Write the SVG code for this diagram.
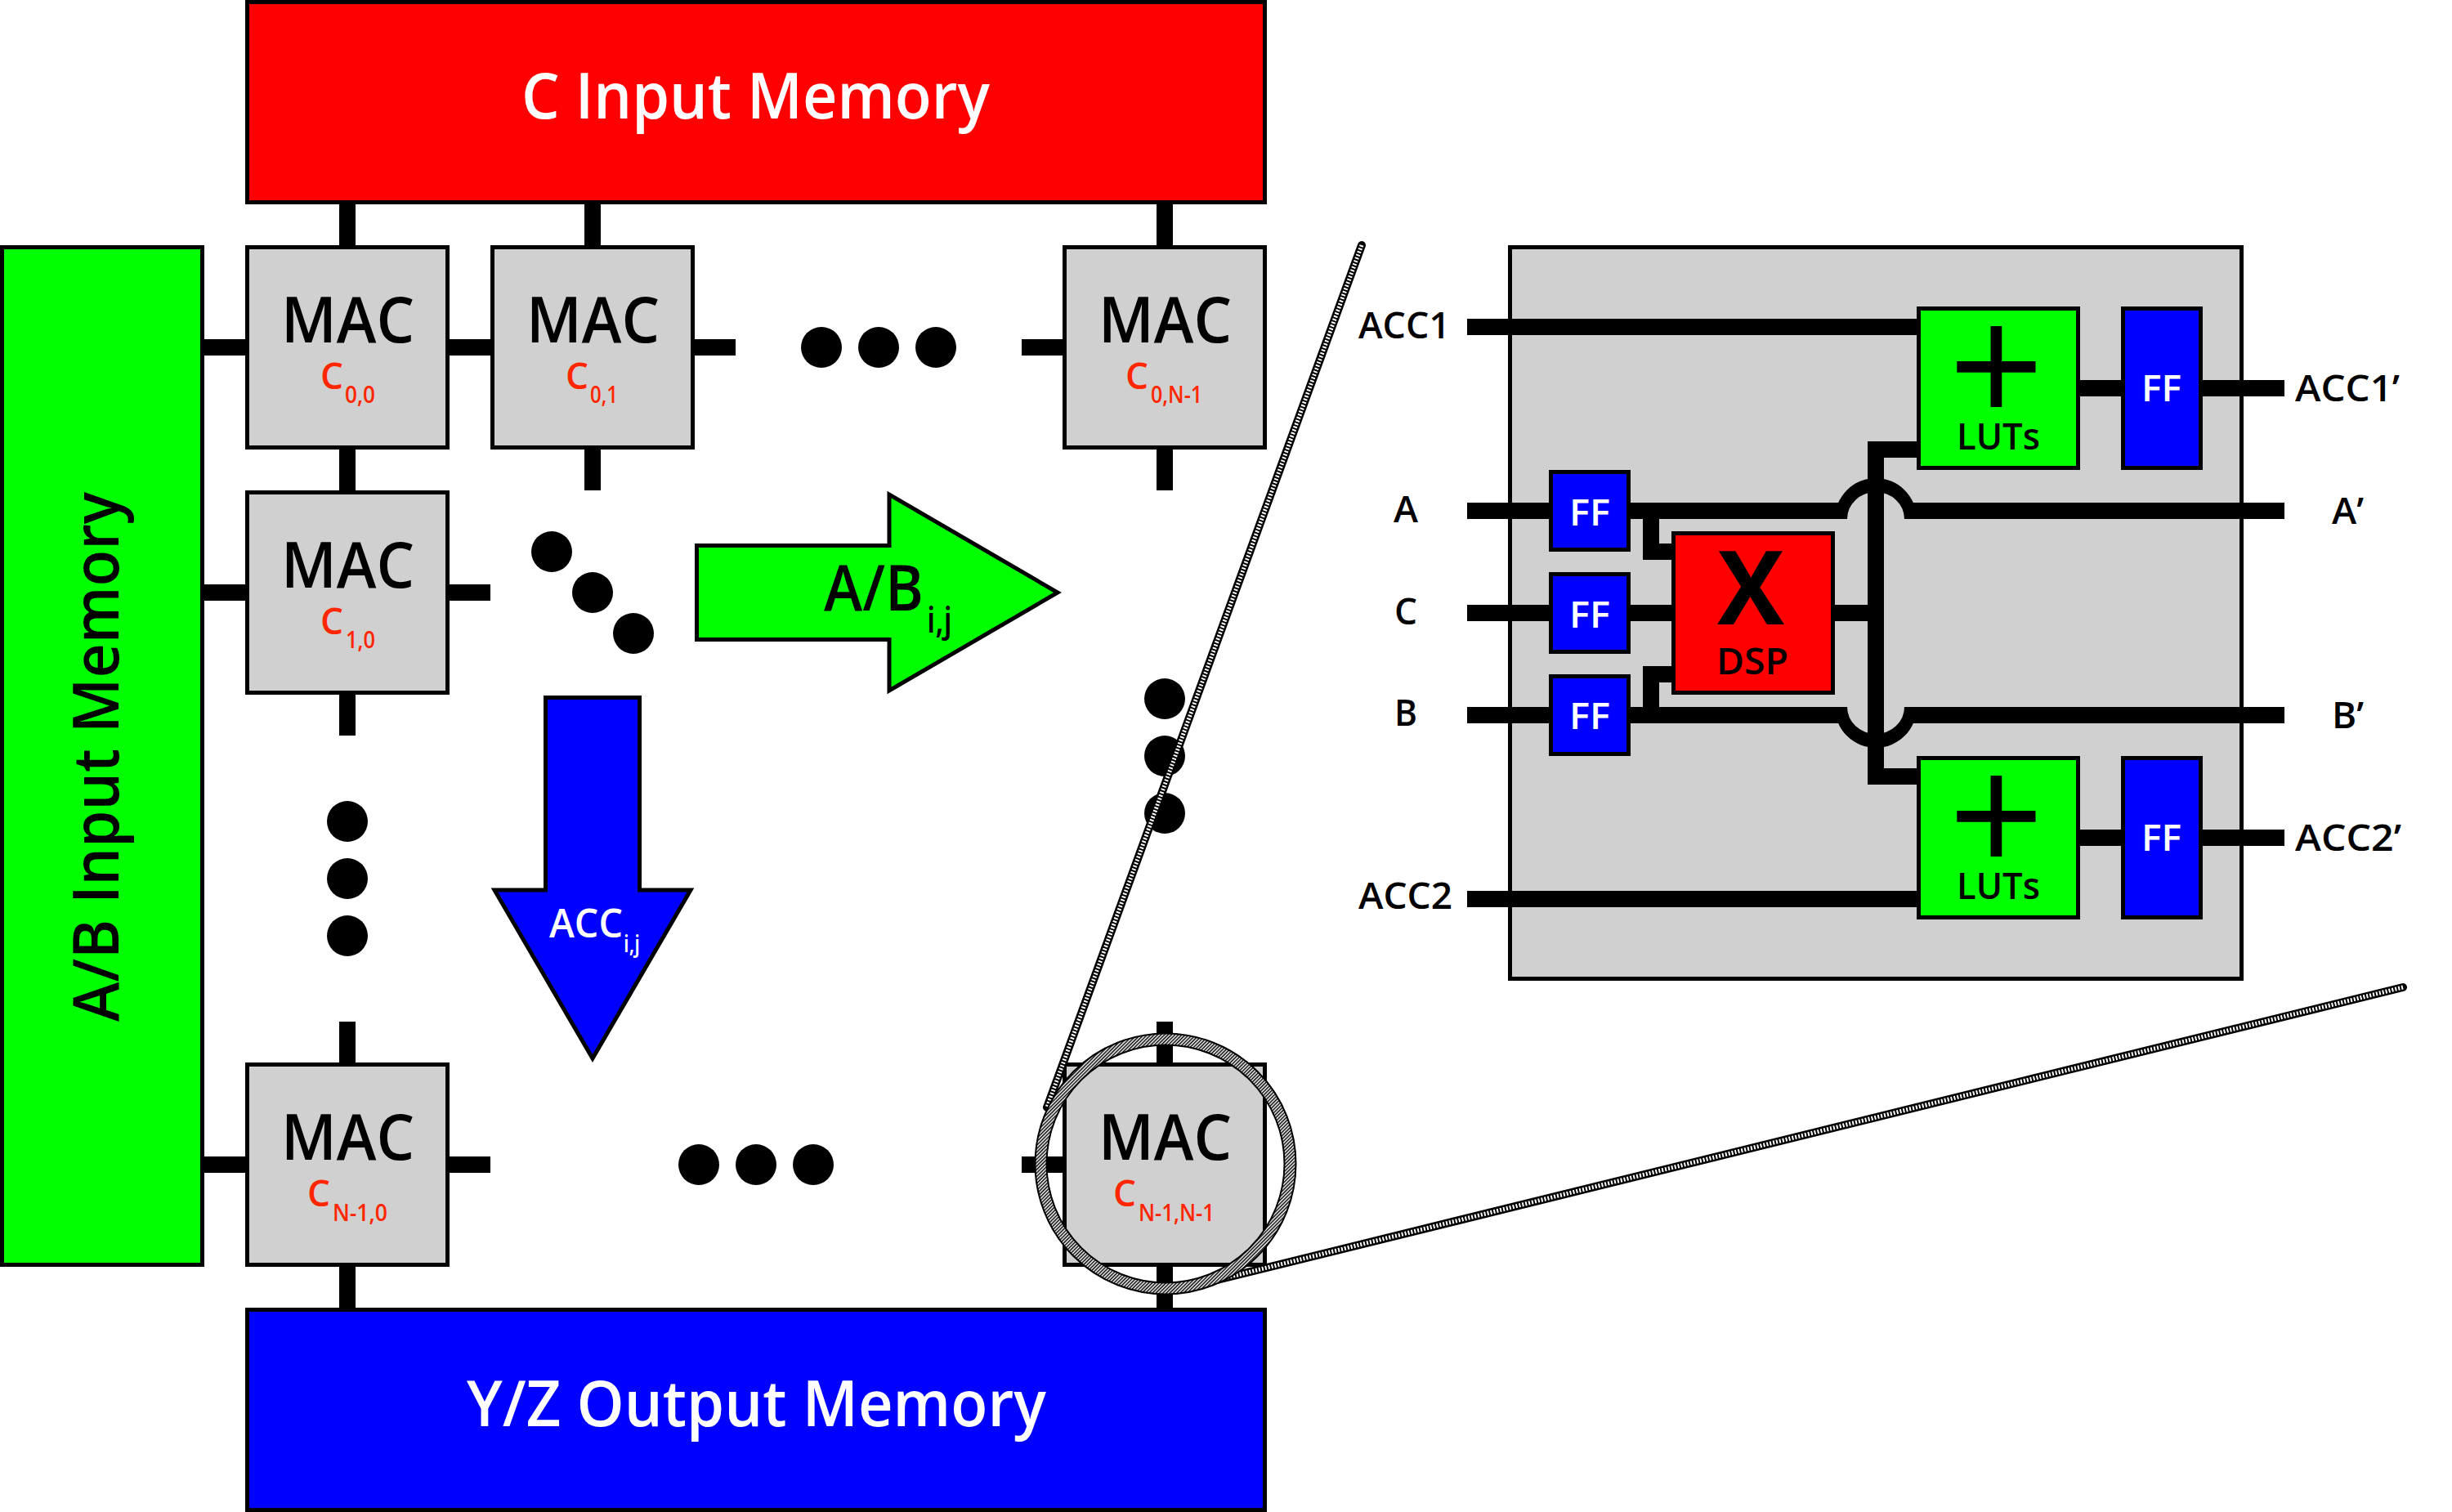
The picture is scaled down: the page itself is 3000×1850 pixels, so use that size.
<svg xmlns="http://www.w3.org/2000/svg" width="3000" height="1850" viewBox="0 0 3000 1850">
<style>
text{font-family:"Open Sans","Noto Sans","Liberation Sans",sans-serif;fill:#000;font-weight:600}
.box{stroke:#000;stroke-width:5}
.g{fill:#d0d0d0}.gr{fill:#00ff00}.bl{fill:#0000ff}.rd{fill:#ff0000}
.r{fill:#ff2600;font-weight:600}
.wire{stroke:#000;stroke-width:20;fill:none}
.mac{font-size:77px}
.c{font-size:46px}.s{font-size:28px}
.big{font-size:77px}
.lb{font-size:46px;font-weight:600}
.ff{font-size:46px;fill:#fff;font-weight:600}
.plus{font-size:205px;font-weight:400}
</style>
<defs>
<pattern id="hatch" width="3" height="3" patternUnits="userSpaceOnUse" patternTransform="rotate(45)"><rect width="3" height="3" fill="#fff"/><rect width="1.5" height="3" fill="#000"/></pattern>
</defs>
<g id="connectors">
<path class="wire" d="M425 250V300M725 250V300M1425 250V300M425 550V600M725 550V600M1425 550V600M425 850V900M425 1250V1300M1425 1250V1300M425 1550V1600M1425 1550V1600M250 425H300M550 425H600M850 425H900M1250 425H1300M250 725H300M550 725H600M250 1425H300M550 1425H600M1250 1425H1300"/>
</g>
<g id="c-input-memory"><rect class="box rd" x="302.5" y="2.5" width="1245" height="245"/><text class="big" style="fill:#fff" x="638" y="145" textLength="573" lengthAdjust="spacingAndGlyphs">C Input Memory</text></g>
<g id="ab-input-memory"><rect class="box gr" x="2.5" y="302.5" width="245" height="1245"/><text class="big" transform="translate(145 1250) rotate(-90)" textLength="648" lengthAdjust="spacingAndGlyphs">A/B Input Memory</text></g>
<g id="yz-output-memory"><rect class="box bl" x="302.5" y="1602.5" width="1245" height="245"/><text class="big" style="fill:#fff" x="571" y="1745" textLength="709" lengthAdjust="spacingAndGlyphs">Y/Z Output Memory</text></g>
<g id="mac-0-0"><rect class="box g" x="302.5" y="302.5" width="245" height="245"/><text class="mac" x="344" y="419" textLength="163" lengthAdjust="spacingAndGlyphs">MAC</text><text class="c r" x="392" y="476" textLength="28" lengthAdjust="spacingAndGlyphs">C</text><text class="s r" x="422" y="493" textLength="37" lengthAdjust="spacingAndGlyphs">0,0</text></g>
<g id="mac-0-1"><rect class="box g" x="602.5" y="302.5" width="245" height="245"/><text class="mac" x="644" y="419" textLength="163" lengthAdjust="spacingAndGlyphs">MAC</text><text class="c r" x="692" y="476" textLength="28" lengthAdjust="spacingAndGlyphs">C</text><text class="s r" x="722" y="493" textLength="34" lengthAdjust="spacingAndGlyphs">0,1</text></g>
<g id="mac-0-n"><rect class="box g" x="1302.5" y="302.5" width="245" height="245"/><text class="mac" x="1344" y="419" textLength="163" lengthAdjust="spacingAndGlyphs">MAC</text><text class="c r" x="1377" y="476" textLength="28" lengthAdjust="spacingAndGlyphs">C</text><text class="s r" x="1408" y="493" textLength="63" lengthAdjust="spacingAndGlyphs">0,N-1</text></g>
<g id="mac-1-0"><rect class="box g" x="302.5" y="602.5" width="245" height="245"/><text class="mac" x="344" y="719" textLength="163" lengthAdjust="spacingAndGlyphs">MAC</text><text class="c r" x="392" y="776" textLength="28" lengthAdjust="spacingAndGlyphs">C</text><text class="s r" x="423" y="793" textLength="36" lengthAdjust="spacingAndGlyphs">1,0</text></g>
<g id="mac-n-0"><rect class="box g" x="302.5" y="1302.5" width="245" height="245"/><text class="mac" x="344" y="1419" textLength="163" lengthAdjust="spacingAndGlyphs">MAC</text><text class="c r" x="376" y="1476" textLength="28" lengthAdjust="spacingAndGlyphs">C</text><text class="s r" x="407" y="1494" textLength="67" lengthAdjust="spacingAndGlyphs">N-1,0</text></g>
<g id="mac-n-n"><rect class="box g" x="1302.5" y="1302.5" width="245" height="245"/><text class="mac" x="1344" y="1419" textLength="163" lengthAdjust="spacingAndGlyphs">MAC</text><text class="c r" x="1362" y="1476" textLength="28" lengthAdjust="spacingAndGlyphs">C</text><text class="s r" x="1393" y="1494" textLength="93" lengthAdjust="spacingAndGlyphs">N-1,N-1</text></g>
<g id="dots">
<circle cx="1005" cy="425" r="25"/><circle cx="1075" cy="425" r="25"/><circle cx="1145" cy="425" r="25"/>
<circle cx="425" cy="1005" r="25"/><circle cx="425" cy="1075" r="25"/><circle cx="425" cy="1145" r="25"/>
<circle cx="1425" cy="855" r="25"/><circle cx="1425" cy="925" r="25"/><circle cx="1425" cy="995" r="25"/>
<circle cx="855" cy="1425" r="25"/><circle cx="925" cy="1425" r="25"/><circle cx="995" cy="1425" r="25"/>
<circle cx="675" cy="675" r="25"/><circle cx="725" cy="725" r="25"/><circle cx="775" cy="775" r="25"/>
</g>
<g id="arrow-ab"><path class="box gr" d="M852.5 667.5H1088V605L1294 725L1088 845V782.5H852.5Z"/><text class="mac" x="1008" y="747" textLength="122" lengthAdjust="spacingAndGlyphs">A/B</text><text x="1134" y="774" style="font-size:44px" textLength="31" lengthAdjust="spacingAndGlyphs">i,j</text></g>
<g id="arrow-acc"><path class="box bl" d="M667.5 853.5V1089H605L725 1295L845 1089H782.5V853.5Z"/><text x="672" y="1147" style="font-size:48px;fill:#fff" textLength="90" lengthAdjust="spacingAndGlyphs">ACC</text><text x="763" y="1165" style="font-size:28px;fill:#fff" textLength="20" lengthAdjust="spacingAndGlyphs">i,j</text></g>
<g id="inset-panel"><rect class="box g" x="1847.5" y="302.5" width="895" height="895"/></g>
<g id="inset-connectors">
<path class="wire" d="M1795 400H2345M2545 475H2595M2695 475H2795M1795 625H1895M1995 625H2260M2330 625H2795M1795 750H1895M1995 750H2045M2245 750H2295M1795 875H1895M1995 875H2260M2330 875H2795M1795 1100H2345M2545 1025H2595M2695 1025H2795M2020 625V675H2045M2020 875V825H2045M2345 550H2295V950H2345"/>
<path d="M2245 635A50 50 0 0 1 2345 635H2330A35 33 0 0 0 2260 635ZM2245 865A50 50 0 0 0 2345 865H2330A35 33 0 0 1 2260 865Z"/>
</g>
<g id="ff-a"><rect class="box bl" x="1897.5" y="577.5" width="95" height="95"/><text class="ff" x="1920" y="643" textLength="50" lengthAdjust="spacingAndGlyphs">FF</text></g>
<g id="ff-c"><rect class="box bl" x="1897.5" y="702.5" width="95" height="95"/><text class="ff" x="1920" y="768" textLength="50" lengthAdjust="spacingAndGlyphs">FF</text></g>
<g id="ff-b"><rect class="box bl" x="1897.5" y="827.5" width="95" height="95"/><text class="ff" x="1920" y="892" textLength="50" lengthAdjust="spacingAndGlyphs">FF</text></g>
<g id="dsp"><rect class="box rd" x="2047.5" y="652.5" width="195" height="195"/><text x="2101" y="764" style="font-size:125px;font-weight:700" textLength="82" lengthAdjust="spacingAndGlyphs">X</text><text class="lb" x="2100" y="825" textLength="88" lengthAdjust="spacingAndGlyphs">DSP</text></g>
<g id="lut-1"><rect class="box gr" x="2347.5" y="377.5" width="195" height="195"/><text class="plus" x="2384" y="521">+</text><text class="lb" x="2394" y="550" textLength="102" lengthAdjust="spacingAndGlyphs">LUTs</text></g>
<g id="lut-2"><rect class="box gr" x="2347.5" y="927.5" width="195" height="195"/><text class="plus" x="2384" y="1071">+</text><text class="lb" x="2394" y="1100" textLength="102" lengthAdjust="spacingAndGlyphs">LUTs</text></g>
<g id="ff-1"><rect class="box bl" x="2597.5" y="377.5" width="95" height="195"/><text class="ff" x="2620" y="491" textLength="49" lengthAdjust="spacingAndGlyphs">FF</text></g>
<g id="ff-2"><rect class="box bl" x="2597.5" y="927.5" width="95" height="195"/><text class="ff" x="2620" y="1041" textLength="49" lengthAdjust="spacingAndGlyphs">FF</text></g>
<g id="port-labels">
<text class="lb" x="1662" y="414" textLength="112" lengthAdjust="spacingAndGlyphs">ACC1</text>
<text class="lb" x="1705" y="639" textLength="30" lengthAdjust="spacingAndGlyphs">A</text>
<text class="lb" x="1706" y="764" textLength="28" lengthAdjust="spacingAndGlyphs">C</text>
<text class="lb" x="1706" y="888" textLength="28" lengthAdjust="spacingAndGlyphs">B</text>
<text class="lb" x="1662" y="1112" textLength="115" lengthAdjust="spacingAndGlyphs">ACC2</text>
<text class="lb" x="2808" y="491" textLength="128" lengthAdjust="spacingAndGlyphs">ACC1’</text>
<text class="lb" x="2853" y="641" textLength="39" lengthAdjust="spacingAndGlyphs">A’</text>
<text class="lb" x="2853" y="891" textLength="39" lengthAdjust="spacingAndGlyphs">B’</text>
<text class="lb" x="2808" y="1041" textLength="130" lengthAdjust="spacingAndGlyphs">ACC2’</text>
</g>
<g id="callout" fill="none">
<path stroke="#000" stroke-width="10" stroke-linecap="round" d="M1666 300L1281 1355"/>
<path stroke="#fff" stroke-width="5" stroke-dasharray="2 2" d="M1666 300L1281 1355"/>
<path stroke="#000" stroke-width="10" stroke-linecap="round" d="M2940 1208L1461 1573"/>
<path stroke="#fff" stroke-width="5" stroke-dasharray="2 2" d="M2940 1208L1461 1573"/>
<circle cx="1426" cy="1424" r="152.5" stroke="#000" stroke-width="16"/>
<circle cx="1426" cy="1424" r="152.5" stroke="url(#hatch)" stroke-width="12"/>
</g>
</svg>
